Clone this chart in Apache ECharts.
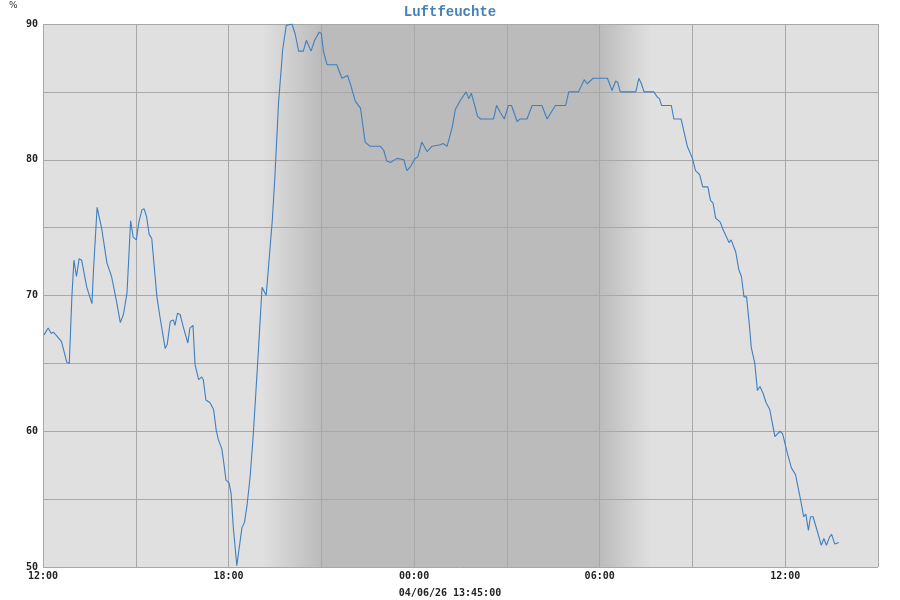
<!DOCTYPE html>
<html>
<head>
<meta charset="utf-8">
<script src="https://cdn.jsdelivr.net/npm/echarts@6/dist/echarts.min.js"></script>
<style>html,body{margin:0;padding:0;background:#fff}#c{width:900px;height:600px}</style>
</head>
<body>
<div id="c"></div>
<script>
// Measurement times (from 12:00 one day to 13:45 the next day, in order)
const times = ["12:02","12:10","12:16","12:20","12:25","12:36","12:46","12:51","12:56","13:00","13:05","13:10","13:15","13:25","13:35","13:38","13:45","13:54","14:04","14:13","14:22","14:30","14:36","14:43","14:50","14:55","15:01","15:06","15:12","15:16","15:21","15:26","15:31","15:41","15:47","15:57","16:01","16:07","16:13","16:16","16:21","16:26","16:32","16:41","16:45","16:51","16:55","17:02","17:08","17:11","17:16","17:24","17:31","17:36","17:40","17:47","17:51","17:55","18:01","18:05","18:09","18:16","18:21","18:26","18:31","18:36","18:42","18:48","18:54","18:58","19:05","19:13","19:25","19:30","19:37","19:45","19:52","20:03","20:09","20:16","20:25","20:31","20:40","20:47","20:56","21:00","21:04","21:11","21:30","21:40","21:51","21:57","22:06","22:16","22:25","22:34","22:54","23:01","23:07","23:14","23:27","23:40","23:46","23:53","00:02","00:07","00:15","00:25","00:35","00:51","00:56","01:04","01:14","01:20","01:30","01:41","01:46","01:51","01:59","02:03","02:09","02:34","02:40","02:47","02:55","03:03","03:09","03:20","03:25","03:39","03:49","04:08","04:18","04:34","04:54","05:00","05:19","05:30","05:36","05:39","05:47","06:15","06:24","06:31","06:35","06:40","07:10","07:16","07:21","07:26","07:45","07:52","07:56","08:00","08:19","08:24","08:38","08:50","09:00","09:06","09:14","09:20","09:30","09:35","09:40","09:45","09:54","10:00","10:11","10:15","10:24","10:30","10:35","10:40","10:45","10:51","10:54","11:01","11:06","11:11","11:17","11:23","11:30","11:40","11:50","11:55","12:04","12:12","12:20","12:29","12:36","12:40","12:45","12:49","12:54","13:01","13:04","13:10","13:15","13:20","13:26","13:30","13:36","13:44"];
const humidity = [67.1,67.6,67.2,67.3,67.1,66.6,65.1,65.0,69.9,72.6,71.4,72.7,72.6,70.6,69.4,71.9,76.5,74.9,72.4,71.4,69.7,68.0,68.6,70.2,75.5,74.3,74.1,75.4,76.3,76.4,75.8,74.5,74.2,69.9,68.4,66.1,66.4,68.1,68.2,67.8,68.7,68.6,67.7,66.5,67.6,67.8,64.9,63.8,64.0,63.8,62.3,62.1,61.6,60.1,59.4,58.7,57.6,56.4,56.2,55.4,53.0,50.1,51.5,52.9,53.3,54.6,56.7,59.8,63.5,66.0,70.6,70.0,75.6,78.8,84.2,88.1,89.9,90.0,89.3,88.0,88.0,88.8,88.0,88.8,89.4,89.3,88.0,87.0,87.0,86.0,86.2,85.5,84.3,83.8,81.3,81.0,81.0,80.7,79.9,79.8,80.1,80.0,79.2,79.5,80.1,80.2,81.3,80.6,81.0,81.1,81.2,81.0,82.4,83.7,84.4,85.0,84.5,84.9,83.8,83.2,83.0,83.0,84.0,83.5,83.0,84.0,84.0,82.8,83.0,83.0,84.0,84.0,83.0,84.0,84.0,85.0,85.0,85.9,85.6,85.6,86.0,86.0,85.1,85.8,85.7,85.0,85.0,86.0,85.6,85.0,85.0,84.6,84.5,84.0,84.0,83.0,83.0,81.0,80.1,79.2,78.9,78.0,78.0,77.0,76.8,75.7,75.4,74.8,73.9,74.1,73.2,71.9,71.4,69.9,69.9,67.6,66.2,65.0,63.0,63.3,62.8,62.1,61.6,59.6,60.0,59.8,58.4,57.3,56.8,55.1,53.7,53.9,52.7,53.7,53.7,52.8,52.8,51.6,52.1,51.6,52.2,52.4,51.7,51.8];
// Night shading: dusk ramp, night, dawn ramp
const duskStart = "19:05", nightStart = "21:00", nightEnd = "06:00", dawnEnd = "07:40";
const xTickLabels = ["12:00","18:00","00:00","06:00","12:00"];
const yTickLabels = ["50","60","70","80","90"];
const titleText = "Luftfeuchte";
const unitText = "%";
const stampText = "04/06/26 13:45:00";

const START = 12 * 60;
function toMin(s, nextDay) {
  const [h, m] = s.split(":").map(Number);
  return h * 60 + m - START + (nextDay ? 1440 : 0);
}
// sequential conversion: once time wraps past midnight, it is next day
const xs = [];
let day = 0, prev = -1;
times.forEach(t => {
  const [h, m] = t.split(":").map(Number);
  const raw = h * 60 + m;
  if (prev >= 0 && raw < prev) day++;
  prev = raw;
  xs.push(raw - START + day * 1440);
});
const data = xs.map((x, i) => [x, humidity[i]]);

function fmt(v) {
  const tot = (v + START) % 1440;
  const h = Math.floor(tot / 60), m = tot % 60;
  return String(h).padStart(2, "0") + ":" + String(m).padStart(2, "0");
}

const LIGHT = "#e0e0e0", DARK = "#bbbbbb";
const chart = echarts.init(document.getElementById("c"));
const labelFont = { fontFamily: "DejaVu Sans Mono", fontWeight: "bold", fontSize: 10, color: "#222" };
chart.setOption({
  backgroundColor: "#fff",
  animation: false,
  title: {
    text: titleText, left: "center", top: 0,
    textStyle: { fontFamily: "Liberation Mono", fontWeight: "bold", fontSize: 14, color: "#4682b4" }
  },
  graphic: [
    { type: "text", left: 9, top: 1, style: { text: unitText, fontSize: 9, fontFamily: "DejaVu Sans", fill: "#333" } },
    { type: "text", left: "center", top: 588, style: { text: stampText, fontFamily: "DejaVu Sans Mono", fontWeight: "bold", fontSize: 10, fill: "#222" } }
  ],
  grid: { left: 43, right: 22, top: 24, bottom: 33, show: true, backgroundColor: LIGHT, borderWidth: 0, z: 0 },
  xAxis: {
    type: "value", min: 0, max: 1620, interval: 180, z: 2,
    axisLine: { show: false }, axisTick: { show: false },
    splitLine: { show: true, lineStyle: { color: "#a8a8a8", width: 1 } },
    axisLabel: Object.assign({ margin: 4, formatter: v => {
      if (v % 360 !== 0) return "";
      const s = fmt(v); return xTickLabels.includes(s) ? s : "";
    } }, labelFont)
  },
  yAxis: {
    type: "value", min: 50, max: 90, interval: 5, z: 2,
    axisLine: { show: false }, axisTick: { show: false },
    splitLine: { show: true, lineStyle: { color: "#a8a8a8", width: 1 } },
    axisLabel: Object.assign({ margin: 5, formatter: v => yTickLabels.includes(String(v)) ? String(v) : "" }, labelFont)
  },
  series: [
    {
      type: "line", data: [], z: 1, silent: true,
      markArea: {
        silent: true,
        data: [
          [{ xAxis: toMin(duskStart, false), itemStyle: { color: new echarts.graphic.LinearGradient(0, 0, 1, 0, [{ offset: 0, color: LIGHT }, { offset: 1, color: DARK }]) } }, { xAxis: toMin(nightStart, false) }],
          [{ xAxis: toMin(nightStart, false), itemStyle: { color: DARK } }, { xAxis: toMin(nightEnd, true) }],
          [{ xAxis: toMin(nightEnd, true), itemStyle: { color: new echarts.graphic.LinearGradient(0, 0, 1, 0, [{ offset: 0, color: DARK }, { offset: 1, color: LIGHT }]) } }, { xAxis: toMin(dawnEnd, true) }]
        ]
      }
    },
    {
      type: "line", data: data, z: 3, showSymbol: false, smooth: false,
      lineStyle: { color: "#3f7fbf", width: 1.1 }, itemStyle: { color: "#3f7fbf" }
    }
  ]
});
</script>
</body>
</html>
